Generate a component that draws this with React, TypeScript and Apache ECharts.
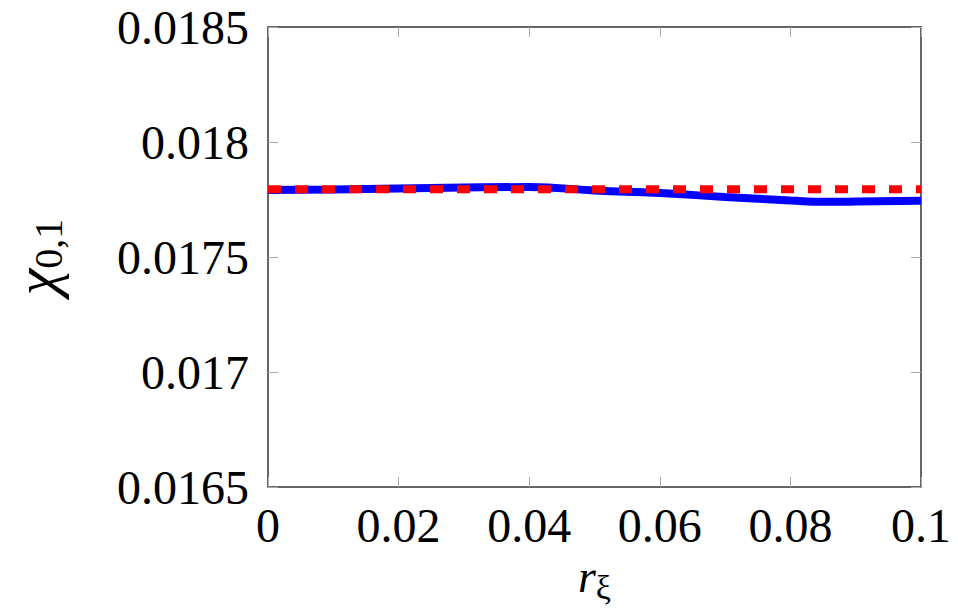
import React, { useEffect, useRef } from "react";
import * as echarts from "echarts";

const xValues = [0, 0.01, 0.02, 0.03, 0.04, 0.05, 0.06, 0.07, 0.08, 0.085, 0.09, 0.1];
const blueValues = [0.017791, 0.017793, 0.017798, 0.017802, 0.017804, 0.017789, 0.017778, 0.017761, 0.017746, 0.01774, 0.017741, 0.017745];
const redX = [0, 0.1];
const redValues = [0.017795, 0.017795];

const FONT = "'Liberation Serif', 'DejaVu Serif', serif";

export default function App() {
  const ref = useRef<HTMLDivElement>(null);
  useEffect(() => {
    if (!ref.current) return;
    const chart = echarts.init(ref.current, null, { renderer: "svg" });
    const labelStyle = { color: "#000", fontFamily: FONT, fontSize: 48 };
    const tick = { show: true, inside: true, length: 10, lineStyle: { color: "#aaa", width: 1 } };
    chart.setOption({
      animation: false,
      grid: { left: 268, right: 37, top: 27, bottom: 126, containLabel: false, outerBoundsMode: "none" },
      xAxis: [
        {
          type: "value", min: 0, max: 0.1, interval: 0.02,
          axisLine: { show: true, onZero: false, lineStyle: { color: "#333", width: 1.5 } },
          axisTick: tick,
          splitLine: { show: false },
          axisLabel: { ...labelStyle, margin: 14, formatter: (v: number) => String(Number(v.toFixed(3))) },
          name: "{a|r}{b|ξ}",
          nameLocation: "middle",
          nameGap: 60,
          nameTextStyle: {
            rich: {
              a: { fontFamily: FONT, fontStyle: "italic", fontSize: 46, color: "#000" },
              b: { fontFamily: FONT, fontSize: 34, color: "#000", padding: [22, 0, 0, 0] },
            },
          },
        },
        {
          type: "value", min: 0, max: 0.1, interval: 0.02, position: "top",
          axisLine: { show: true, onZero: false, lineStyle: { color: "#333", width: 1.5 } },
          axisTick: tick, axisLabel: { show: false }, splitLine: { show: false },
        },
      ],
      yAxis: [
        {
          type: "value", min: 0.0165, max: 0.0185, interval: 0.0005,
          axisLine: { show: true, onZero: false, lineStyle: { color: "#333", width: 1.5 } },
          axisTick: tick,
          splitLine: { show: false },
          axisLabel: { ...labelStyle, margin: 19, formatter: (v: number) => String(Number(v.toFixed(5))) },
          name: "{a|χ}{b|0,1}",
          nameLocation: "middle",
          nameGap: 200,
          nameTextStyle: {
            rich: {
              a: { fontFamily: FONT, fontStyle: "italic", fontSize: 60, color: "#000" },
              b: { fontFamily: FONT, fontSize: 40, color: "#000", padding: [24, 0, 0, 0] },
            },
          },
        },
        {
          type: "value", min: 0.0165, max: 0.0185, interval: 0.0005, position: "right",
          axisLine: { show: true, onZero: false, lineStyle: { color: "#333", width: 1.5 } },
          axisTick: tick, axisLabel: { show: false }, splitLine: { show: false },
        },
      ],
      series: [
        {
          type: "line",
          data: xValues.map((x, i) => [x, blueValues[i]]),
          smooth: true,
          showSymbol: false,
          lineStyle: { color: "#0000ff", width: 8 },
          z: 2,
        },
        {
          type: "line",
          data: redX.map((x, i) => [x, redValues[i]]),
          showSymbol: false,
          lineStyle: { color: "#ff0000", width: 8, type: [13, 14] },
          z: 3,
        },
      ],
    });
    return () => chart.dispose();
  }, []);
  return <div ref={ref} style={{ width: 958, height: 613, position: "absolute", left: 0, top: 0 }} />;
}
